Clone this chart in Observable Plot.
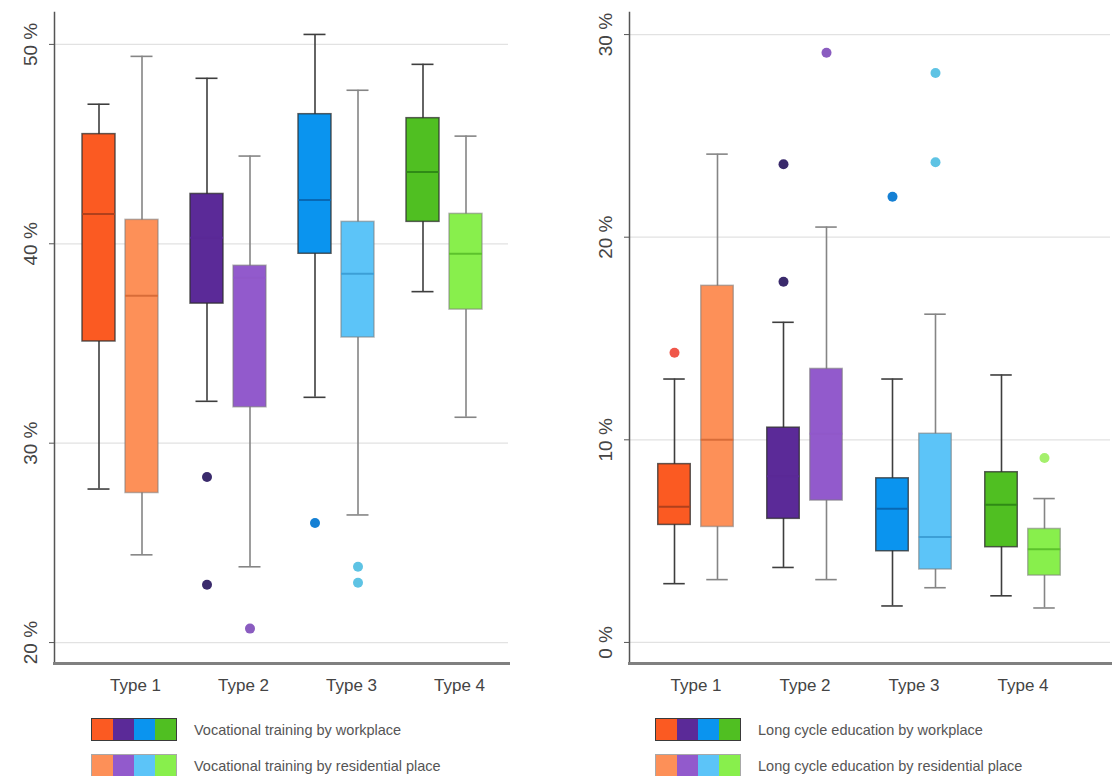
<!DOCTYPE html>
<html>
<head>
<meta charset="utf-8">
<script src="https://cdn.jsdelivr.net/npm/d3@7"></script>
<script src="https://cdn.jsdelivr.net/npm/@observablehq/plot@0.6"></script>
<style>
  html, body { margin: 0; padding: 0; background: #fff; }
  body { width: 1113px; height: 776px; position: relative; overflow: hidden; font-family: "Liberation Sans", Arial, sans-serif; }
  .panel { position: absolute; top: 0; }
  .legend-row { position: absolute; display: flex; align-items: center; font-size: 14.5px; color: #555; }
  .swatch { display: flex; height: 23px; box-sizing: border-box; border: 1.5px solid; margin-right: 17px; }
  .swatch span { width: 21px; height: 100%; display: block; }
</style>
</head>
<body>
<div id="left" class="panel" style="left:0px"></div>
<div id="right" class="panel" style="left:556px"></div>
<script>
// ---------- data ----------
const types = ["Type 1", "Type 2", "Type 3", "Type 4"];

// Vocational training by workplace
const vocWorkLow    = [27.7, 32.1, 32.3, 37.6];
const vocWorkQ1     = [35.1, 37.0, 39.5, 41.1];
const vocWorkMedian = [41.5, 40.3, 42.2, 43.6];
const vocWorkQ3     = [45.5, 42.5, 46.5, 46.3];
const vocWorkHigh   = [47.0, 48.3, 50.5, 49.0];
const vocWorkOutliers = [[], [28.3, 22.9], [26.0], []];

// Vocational training by residential place
const vocResLow    = [24.4, 23.8, 26.4, 31.3];
const vocResQ1     = [27.5, 31.8, 35.3, 36.7];
const vocResMedian = [37.4, 38.3, 38.5, 39.5];
const vocResQ3     = [41.2, 38.9, 41.1, 41.5];
const vocResHigh   = [49.4, 44.4, 47.7, 45.4];
const vocResOutliers = [[], [20.7], [23.8, 23.0], []];

// Long cycle education by workplace
const lcWorkLow    = [2.9, 3.7, 1.8, 2.3];
const lcWorkQ1     = [5.8, 6.1, 4.5, 4.7];
const lcWorkMedian = [6.7, 8.2, 6.6, 6.8];
const lcWorkQ3     = [8.8, 10.6, 8.1, 8.4];
const lcWorkHigh   = [13.0, 15.8, 13.0, 13.2];
const lcWorkOutliers = [[14.3], [23.6, 17.8], [22.0], []];

// Long cycle education by residential place
const lcResLow    = [3.1, 3.1, 2.7, 1.7];
const lcResQ1     = [5.7, 7.0, 3.6, 3.3];
const lcResMedian = [10.0, 10.3, 5.2, 4.6];
const lcResQ3     = [17.6, 13.5, 10.3, 5.6];
const lcResHigh   = [24.1, 20.5, 16.2, 7.1];
const lcResOutliers = [[], [29.1], [28.1, 23.7], [9.1]];

const vocTicks = [20, 30, 40, 50];
const lcTicks = [0, 10, 20, 30];
const legendLabelsLeft = ["Vocational training by workplace", "Vocational training by residential place"];
const legendLabelsRight = ["Long cycle education by workplace", "Long cycle education by residential place"];

// ---------- colours ----------
const workColors   = ["#fb5a22", "#5b2a98", "#0a94ef", "#50bf22"];
const resColors    = ["#fd9058", "#925acc", "#5cc4f8", "#88ef4c"];
const workMedianColors = ["#b0401c", "#5a2996", "#0868b4", "#2f8a16"];
const resMedianColors  = ["#d86c38", "#9058c9", "#3c9fd6", "#5cc22c"];
const workOutlierColors = ["#f0574a", "#3a2a6c", "#1580d4", "#50bf22"];
const resOutlierColors  = ["#fd9058", "#8a5cc0", "#5ec3e4", "#a4f06c"];

// ---------- helpers ----------
function boxRows(lo, q1, med, q3, hi) {
  return types.map((t, i) => ({type: t, i, lo: lo[i], q1: q1[i], med: med[i], q3: q3[i], hi: hi[i]}));
}
function outRows(outs) {
  return types.flatMap((t, i) => outs[i].map(v => ({type: t, i, value: v})));
}

function seriesMarks(rows, outs, step, dx, o) {
  const boxInset = (step - 33) / 2;
  const capInset = (step - 22) / 2;
  return [
    Plot.ruleX(rows, {x: "type", y1: "lo", y2: "hi", dx, stroke: o.whisker, strokeWidth: 1.6}),
    Plot.tickY(rows, {x: "type", y: "hi", dx, stroke: o.whisker, strokeWidth: 1.6, insetLeft: capInset, insetRight: capInset}),
    Plot.tickY(rows, {x: "type", y: "lo", dx, stroke: o.whisker, strokeWidth: 1.6, insetLeft: capInset, insetRight: capInset}),
    Plot.barY(rows, {x: "type", y1: "q1", y2: "q3", dx, fill: d => o.fill[d.i], stroke: o.boxStroke, strokeOpacity: o.boxStrokeOpacity, strokeWidth: 1.5, insetLeft: boxInset, insetRight: boxInset}),
    Plot.tickY(rows, {x: "type", y: "med", dx, stroke: d => o.median[d.i], strokeWidth: 2, insetLeft: boxInset, insetRight: boxInset}),
    Plot.dot(outs, {x: "type", y: "value", dx, fill: d => o.outlier[d.i], r: 5, stroke: "none"})
  ];
}

function panel(cfg) {
  const step = (cfg.xRange[1] - cfg.xRange[0]) / types.length;
  return Plot.plot({
    width: cfg.width,
    height: 705,
    marginLeft: cfg.marginLeft,
    marginRight: cfg.marginRight,
    marginTop: 12,
    marginBottom: 42,
    style: {fontFamily: "'Liberation Sans', Arial, sans-serif", color: "#444", background: "#fff"},
    x: {type: "band", domain: types, range: cfg.xRange, padding: 0},
    y: {domain: cfg.yDomain},
    color: {type: "identity"},
    marks: [
      Plot.gridY({ticks: cfg.ticks, stroke: "#e2e2e2", strokeOpacity: 1, strokeWidth: 1.2}),
      Plot.frame({anchor: "left", stroke: "#555", strokeWidth: 1.5}),
      Plot.frame({anchor: "bottom", stroke: "#808080", strokeWidth: 3}),
      Plot.axisY({ticks: cfg.ticks, tickFormat: () => "", tickSize: 5, label: null, stroke: "#555"}),
      Plot.text(cfg.ticks, {y: d => d, text: d => d + " %", frameAnchor: "left", dx: -24, rotate: -90, textAnchor: "middle", lineAnchor: "middle", fontSize: 19, fill: "#444"}),
      Plot.axisX({tickSize: 0, tickPadding: 15, fontSize: 17, label: null, dx: cfg.labelDx}),
      ...seriesMarks(boxRows(...cfg.work), outRows(cfg.workOut), step, -21.5,
        {whisker: "#3e3e3e", fill: workColors, median: workMedianColors, outlier: workOutlierColors, boxStroke: "#2e2e2e", boxStrokeOpacity: 0.75}),
      ...seriesMarks(boxRows(...cfg.res), outRows(cfg.resOut), step, 21.5,
        {whisker: "#858585", fill: resColors, median: resMedianColors, outlier: resOutlierColors, boxStroke: "#7a7a7a", boxStrokeOpacity: 0.55})
    ]
  });
}

function legend(container, left, labels) {
  [[workColors, labels[0], "#3a3a3a", 718], [resColors, labels[1], "#a8a8a8", 754]].forEach(([cols, label, border, top]) => {
    const row = document.createElement("div");
    row.className = "legend-row";
    row.style.left = left + "px";
    row.style.top = top + "px";
    const sw = document.createElement("div");
    sw.className = "swatch";
    sw.style.borderColor = border;
    cols.forEach(c => { const s = document.createElement("span"); s.style.background = c; sw.appendChild(s); });
    const txt = document.createElement("span");
    txt.textContent = label;
    row.appendChild(sw);
    row.appendChild(txt);
    container.appendChild(row);
  });
}

const leftEl = document.getElementById("left");
leftEl.appendChild(panel({
  width: 556, marginLeft: 54, marginRight: 48,
  xRange: [66, 498], yDomain: [18.95, 51.6], ticks: vocTicks, labelDx: 15,
  work: [vocWorkLow, vocWorkQ1, vocWorkMedian, vocWorkQ3, vocWorkHigh], workOut: vocWorkOutliers,
  res: [vocResLow, vocResQ1, vocResMedian, vocResQ3, vocResHigh], resOut: vocResOutliers
}));
legend(leftEl, 91, legendLabelsLeft);

const rightEl = document.getElementById("right");
rightEl.appendChild(panel({
  width: 557, marginLeft: 73, marginRight: 3,
  xRange: [84, 522], yDomain: [-1.04, 31.09], ticks: lcTicks, labelDx: 0,
  work: [lcWorkLow, lcWorkQ1, lcWorkMedian, lcWorkQ3, lcWorkHigh], workOut: lcWorkOutliers,
  res: [lcResLow, lcResQ1, lcResMedian, lcResQ3, lcResHigh], resOut: lcResOutliers
}));
legend(rightEl, 99, legendLabelsRight);
</script>
</body>
</html>
